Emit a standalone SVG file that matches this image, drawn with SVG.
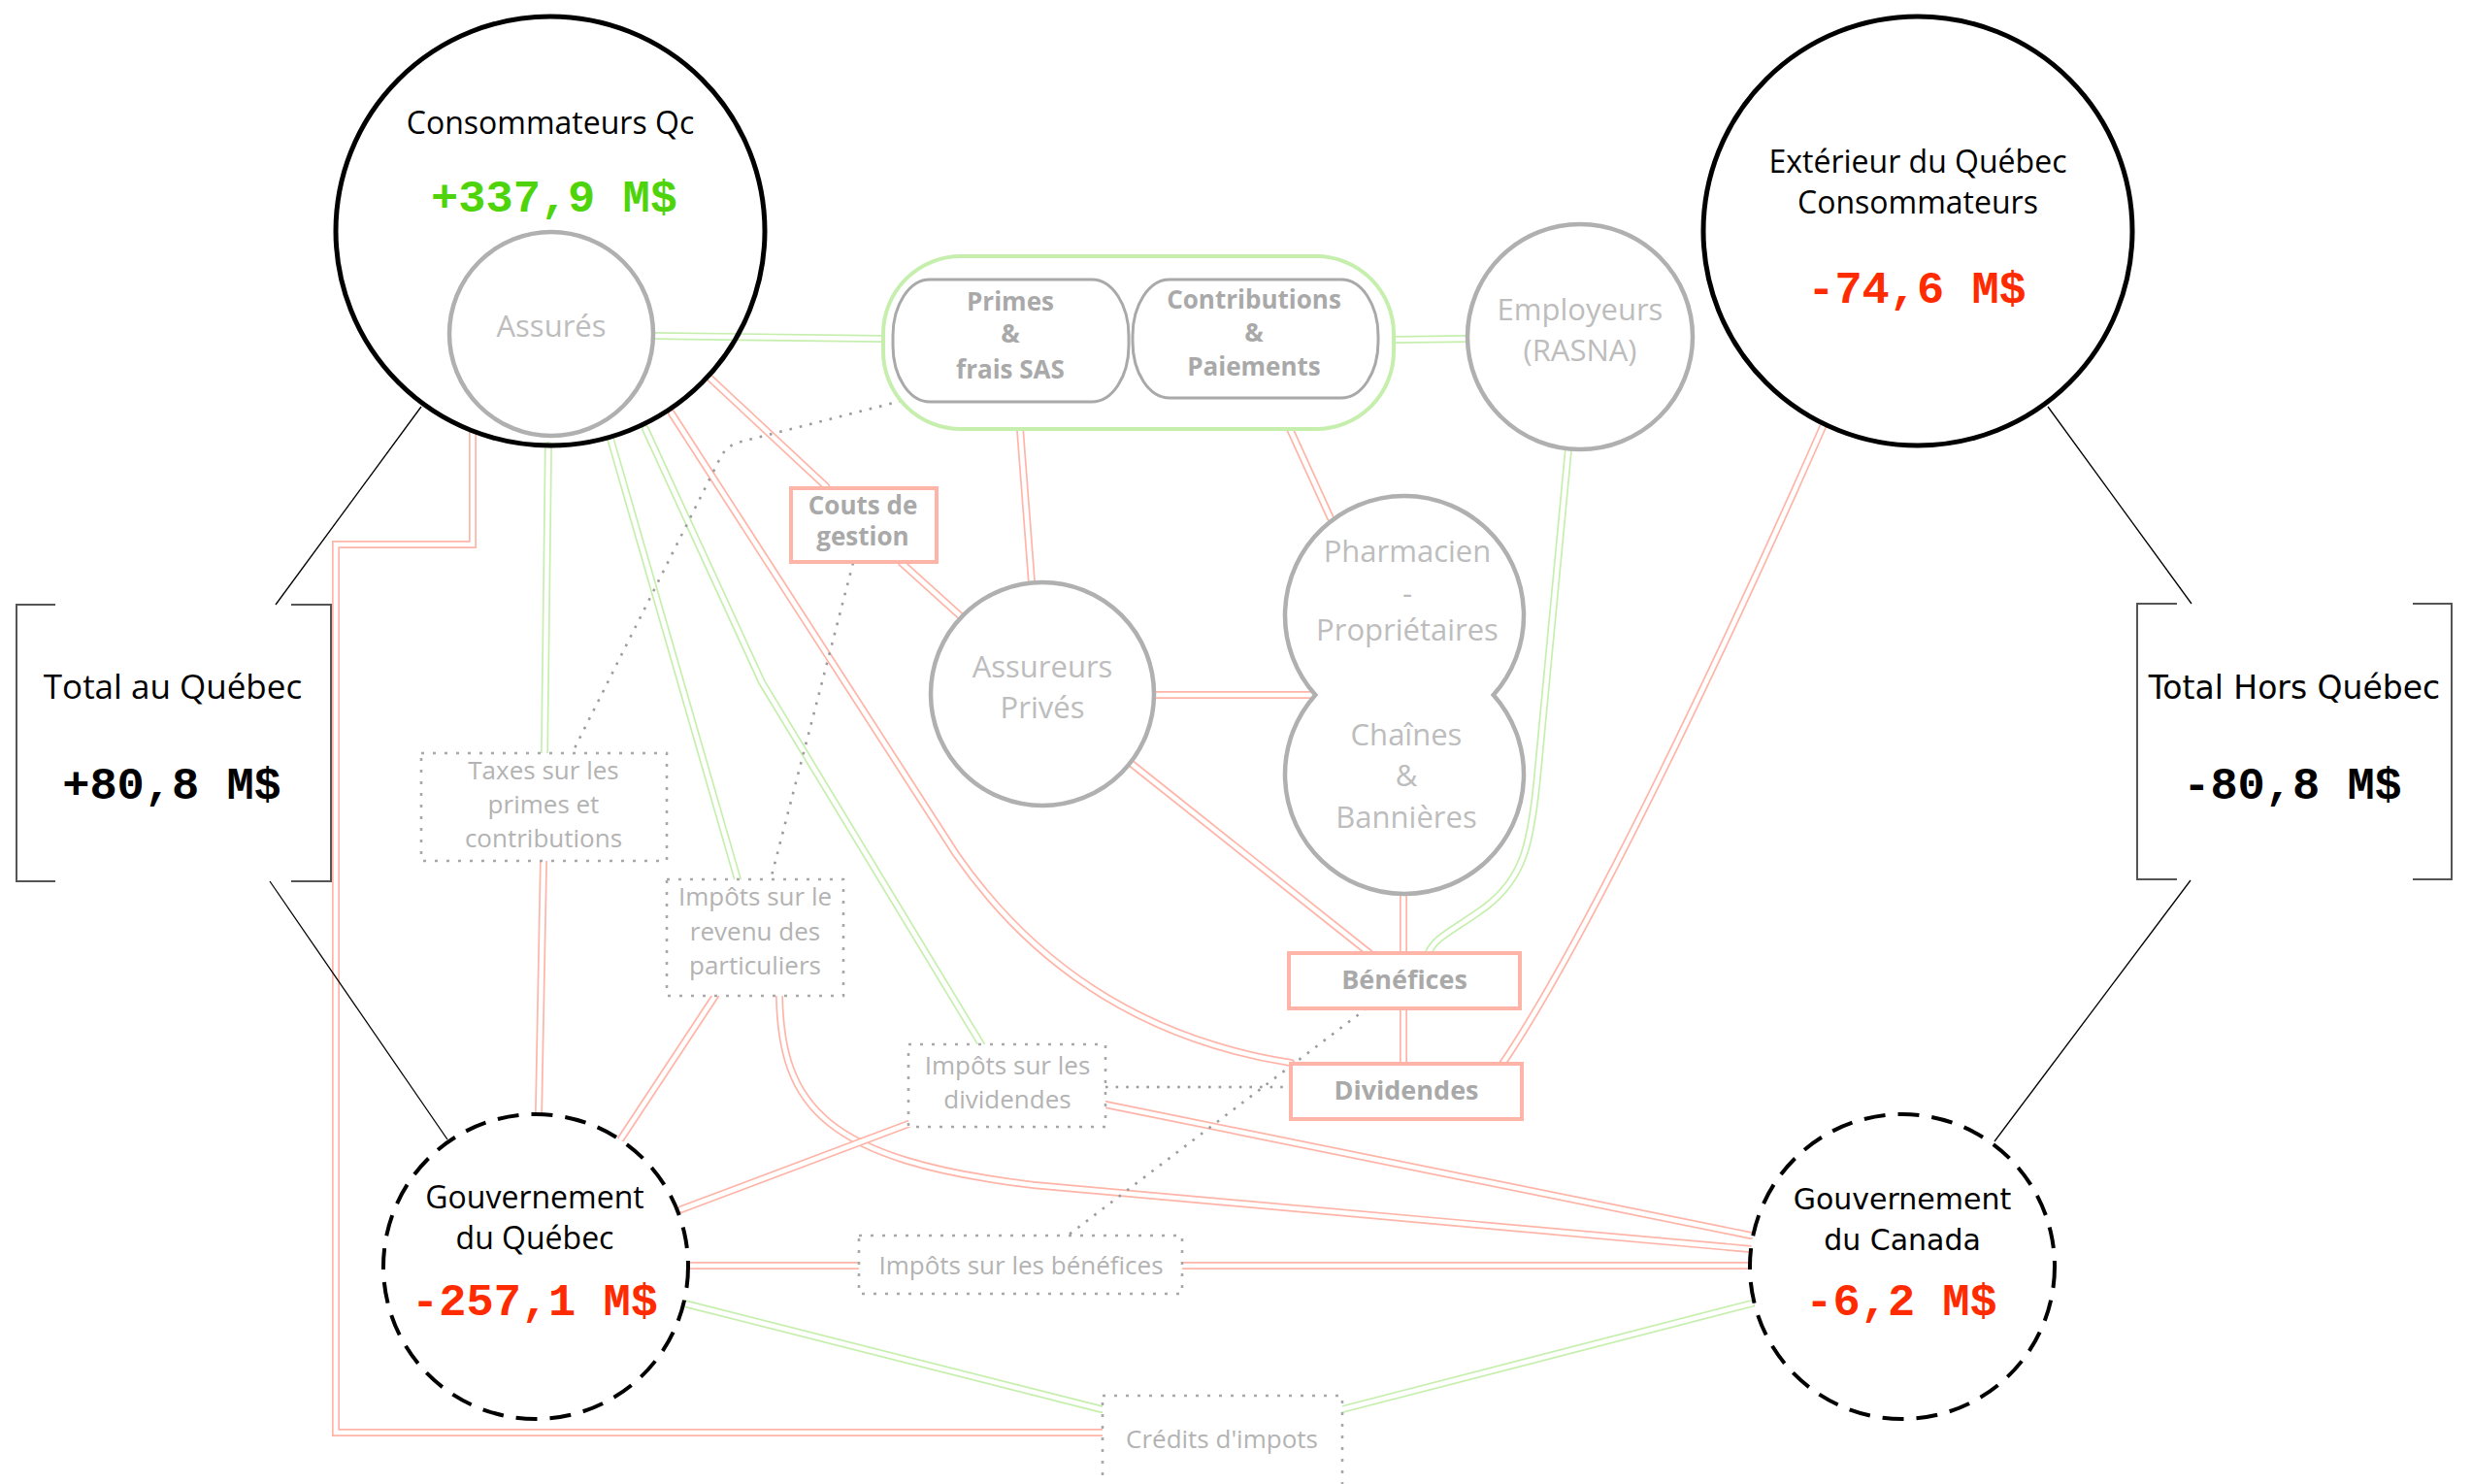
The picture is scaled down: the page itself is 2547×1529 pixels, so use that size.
<svg xmlns="http://www.w3.org/2000/svg" width="2547" height="1529" viewBox="0 0 2547 1529">
<style>
.ro{fill:none;stroke:#ffb4a8;stroke-width:8;stroke-linecap:round;stroke-linejoin:miter}
.go{fill:none;stroke:#c6efae;stroke-width:8;stroke-linecap:round;stroke-linejoin:miter}
.in{fill:none;stroke:#fff;stroke-width:4.6;stroke-linecap:round;stroke-linejoin:miter}
.dot{fill:none;stroke:#9c9c9c;stroke-width:2.6;stroke-dasharray:2.6 8}
.thin{fill:none;stroke:#000;stroke-width:1.3}
.brk{fill:none;stroke:#555;stroke-width:2}
.big{fill:none;stroke:#000;stroke-width:5}
.gov{fill:#fff;stroke:#000;stroke-width:4;stroke-dasharray:22 13}
.gc{fill:#fff;stroke:#b0b0b0;stroke-width:4.5}
.gb{fill:#fff;stroke:#a9a9a9;stroke-width:3}
.rb{fill:#fff;stroke:#ffb4a8;stroke-width:4}
.db{fill:#fff;stroke:#a8a8a8;stroke-width:2.6;stroke-dasharray:3 9}
text{font-family:"Open Sans","Noto Sans",sans-serif;text-anchor:middle}
.lbl{font-size:32px;fill:#000}
.dv{font-family:"DejaVu Sans",sans-serif;fill:#000}
.gl{font-size:31px;fill:#bdbdbd}
.bb{font-size:26px;font-weight:bold;fill:#a9a9a9}
.bx{font-size:27px;font-weight:bold;fill:#a9a9a9}
.tb{font-size:26px;fill:#b3b3b3}
.num{font-family:"Liberation Mono","Courier New",monospace;font-weight:bold;font-size:47px}
.pos{fill:#4fd40c}
.neg{fill:#ff2b00}
.blk{fill:#000}
</style>
<defs>
<path id="r1" d="M487,446 L487,561 L346,561 L346,1476 L1136,1476"/>
<path id="r2" d="M732,390 L851,501"/>
<path id="r3" d="M692,426 L985,880 Q1110,1060 1330,1095"/>
<path id="r4" d="M1051,442 L1063,600"/>
<path id="r5" d="M1329,442 L1371,534"/>
<path id="r6" d="M929,580 L991,636"/>
<path id="r7" d="M1189,716 L1357,716"/>
<path id="r8" d="M1166,787 L1411,982"/>
<path id="r9" d="M1446,921 L1446,982"/>
<path id="r10" d="M1446,1039 L1446,1096"/>
<path id="r11" d="M1878,440 C1790,640 1640,960 1548,1096"/>
<path id="r12" d="M560,887 L555,1147"/>
<path id="r13" d="M737,1026 L640,1173"/>
<path id="r14" d="M803,1026 C805,1140 850,1195 1065,1221 L1804,1287"/>
<path id="r15" d="M936,1158 L702,1246"/>
<path id="r16" d="M1139,1138 L1804,1273"/>
<path id="r17" d="M710,1304 L885,1304"/>
<path id="r18" d="M1218,1304 L1803,1304"/>
<path id="g1" d="M673,346 L910,349"/>
<path id="g2" d="M1436,350 L1513,349"/>
<path id="g3" d="M565,459 L561,776"/>
<path id="g4" d="M629,452 L760,906"/>
<path id="g5" d="M665,442 L785,703 L1011,1076"/>
<path id="g6" d="M1616,463 L1585,790 C1578,870 1570,905 1530,935 C1495,960 1480,965 1472,981"/>
<path id="g7" d="M705,1343 L1135,1452"/>
<path id="g8" d="M1383,1452 L1805,1343"/>
</defs>
<g id="connectors">
<use href="#r1" class="ro"/><use href="#r1" class="in"/>
<use href="#g3" class="go"/><use href="#g3" class="in"/>
<use href="#g4" class="go"/><use href="#g4" class="in"/>
<use href="#g5" class="go"/><use href="#g5" class="in"/>
<use href="#r2" class="ro"/><use href="#r2" class="in"/>
<use href="#r3" class="ro"/><use href="#r3" class="in"/>
<use href="#g1" class="go"/><use href="#g1" class="in"/>
<use href="#g2" class="go"/><use href="#g2" class="in"/>
<use href="#r4" class="ro"/><use href="#r4" class="in"/>
<use href="#r5" class="ro"/><use href="#r5" class="in"/>
<use href="#r6" class="ro"/><use href="#r6" class="in"/>
<use href="#r7" class="ro"/><use href="#r7" class="in"/>
<use href="#r8" class="ro"/><use href="#r8" class="in"/>
<use href="#r9" class="ro"/><use href="#r9" class="in"/>
<use href="#r10" class="ro"/><use href="#r10" class="in"/>
<use href="#g6" class="go"/><use href="#g6" class="in"/>
<use href="#r11" class="ro"/><use href="#r11" class="in"/>
<use href="#r12" class="ro"/><use href="#r12" class="in"/>
<use href="#r13" class="ro"/><use href="#r13" class="in"/>
<use href="#r14" class="ro"/><use href="#r14" class="in"/>
<use href="#r15" class="ro"/><use href="#r15" class="in"/>
<use href="#r16" class="ro"/><use href="#r16" class="in"/>
<use href="#r17" class="ro"/><use href="#r17" class="in"/>
<use href="#r18" class="ro"/><use href="#r18" class="in"/>
<use href="#g7" class="go"/><use href="#g7" class="in"/>
<use href="#g8" class="go"/><use href="#g8" class="in"/>
<path class="dot" d="M929,413 L760,456 Q748,460 742,472 L590,775"/>
<path class="dot" d="M879,580 L794,906"/>
<path class="dot" d="M1408,1039 L1100,1273"/>
<path class="dot" d="M1139,1120 L1332,1120"/>
<path class="thin" d="M434,419 L284,623"/>
<path class="thin" d="M278,908 L461,1174"/>
<path class="thin" d="M2110,419 L2258,622"/>
<path class="thin" d="M2257,907 L2055,1176"/>
</g>
<g id="total-quebec">
<path class="brk" d="M57,623 L17,623 L17,908 L57,908 M300,623 L341,623 L341,908 L300,908"/>
<text x="178" y="720" class="lbl" style="font-size:35px">Total au Québec</text>
<text x="177" y="823" class="num blk">+80,8 M$</text>
</g>
<g id="total-hors-quebec">
<path class="brk" d="M2243,622 L2202,622 L2202,906 L2243,906 M2486,622 L2526,622 L2526,906 L2486,906"/>
<text x="2364" y="720" class="dv" style="font-size:33px">Total Hors Québec</text>
<text x="2362" y="823" class="num blk">-80,8 M$</text>
</g>
<g id="consommateurs-qc">
<circle cx="567" cy="238" r="221" class="big"/>
<text x="567" y="138" class="lbl">Consommateurs Qc</text>
<text x="571" y="218" class="num pos">+337,9 M$</text>
</g>
<g id="assures">
<circle cx="568" cy="344" r="105" class="gc"/>
<text x="568" y="347" class="gl">Assurés</text>
</g>
<g id="flux-capsule">
<rect x="910" y="264" width="526" height="178" rx="80" ry="80" fill="#fff" stroke="#c6efae" stroke-width="4"/>
</g>
<g id="primes">
<rect x="920" y="288" width="243" height="126" rx="38" ry="58" class="gb"/>
<text x="1041" y="320" class="bb">Primes</text>
<text x="1041" y="353" class="bb">&amp;</text>
<text x="1041" y="390" class="bb">frais SAS</text>
</g>
<g id="contributions">
<rect x="1167" y="288" width="253" height="122" rx="38" ry="58" class="gb"/>
<text x="1292" y="318" class="bb">Contributions</text>
<text x="1292" y="352" class="bb">&amp;</text>
<text x="1292" y="387" class="bb">Paiements</text>
</g>
<g id="employeurs">
<circle cx="1628" cy="347" r="116" class="gc"/>
<text x="1628" y="330" class="gl">Employeurs</text>
<text x="1628" y="372" class="gl">(RASNA)</text>
</g>
<g id="exterieur">
<circle cx="1976" cy="238" r="221" class="big"/>
<text x="1976" y="178" class="lbl">Extérieur du Québec</text>
<text x="1976" y="220" class="lbl">Consommateurs</text>
<text x="1975" y="312" class="num neg">-74,6 M$</text>
</g>
<g id="couts-gestion">
<rect x="815" y="503" width="150" height="76" class="rb"/>
<text x="889" y="530" class="bb">Couts de</text>
<text x="889" y="562" class="bb">gestion</text>
</g>
<g id="assureurs">
<circle cx="1074" cy="715" r="115" class="gc"/>
<text x="1074" y="698" class="gl">Assureurs</text>
<text x="1074" y="740" class="gl">Privés</text>
</g>
<g id="pharmaciens">
<path d="M1355.3,716 A123,123 0 1 1 1538.7,716 A123,123 0 1 1 1355.3,716 Z" class="gc"/>
<text x="1450" y="579" class="gl">Pharmacien</text>
<text x="1450" y="622" class="gl">-</text>
<text x="1450" y="660" class="gl">Propriétaires</text>
<text x="1449" y="768" class="gl">Chaînes</text>
<text x="1449" y="810" class="gl">&amp;</text>
<text x="1449" y="853" class="gl">Bannières</text>
</g>
<g id="benefices">
<rect x="1328" y="982" width="238" height="57" class="rb"/>
<text x="1447" y="1019" class="bx">Bénéfices</text>
</g>
<g id="dividendes">
<rect x="1330" y="1096" width="238" height="57" class="rb"/>
<text x="1449" y="1133" class="bx">Dividendes</text>
</g>
<g id="taxes-primes">
<rect x="434" y="776" width="253" height="111" class="db"/>
<text x="560" y="803" class="tb">Taxes sur les</text>
<text x="560" y="838" class="tb">primes et</text>
<text x="560" y="873" class="tb">contributions</text>
</g>
<g id="impots-revenu">
<rect x="687" y="906" width="182" height="120" class="db"/>
<text x="778" y="933" class="tb">Impôts sur le</text>
<text x="778" y="969" class="tb">revenu des</text>
<text x="778" y="1004" class="tb">particuliers</text>
</g>
<g id="impots-dividendes">
<rect x="936" y="1076" width="203" height="85" class="db"/>
<text x="1038" y="1107" class="tb">Impôts sur les</text>
<text x="1038" y="1142" class="tb">dividendes</text>
</g>
<g id="impots-benefices">
<rect x="885" y="1273" width="333" height="60" class="db"/>
<text x="1052" y="1313" class="tb">Impôts sur les bénéfices</text>
</g>
<g id="credits-impots">
<rect x="1136" y="1438" width="247" height="130" class="db"/>
<text x="1259" y="1492" class="tb">Crédits d'impots</text>
</g>
<g id="gouv-quebec">
<circle cx="552" cy="1305" r="157" class="gov"/>
<text x="551" y="1245" class="lbl">Gouvernement</text>
<text x="551" y="1287" class="lbl">du Québec</text>
<text x="551" y="1355" class="num neg">-257,1 M$</text>
</g>
<g id="gouv-canada">
<circle cx="1960" cy="1305" r="157" class="gov"/>
<text x="1960" y="1246" class="dv" style="font-size:30px">Gouvernement</text>
<text x="1960" y="1288" class="dv" style="font-size:30px">du Canada</text>
<text x="1959" y="1355" class="num neg">-6,2 M$</text>
</g>
</svg>
